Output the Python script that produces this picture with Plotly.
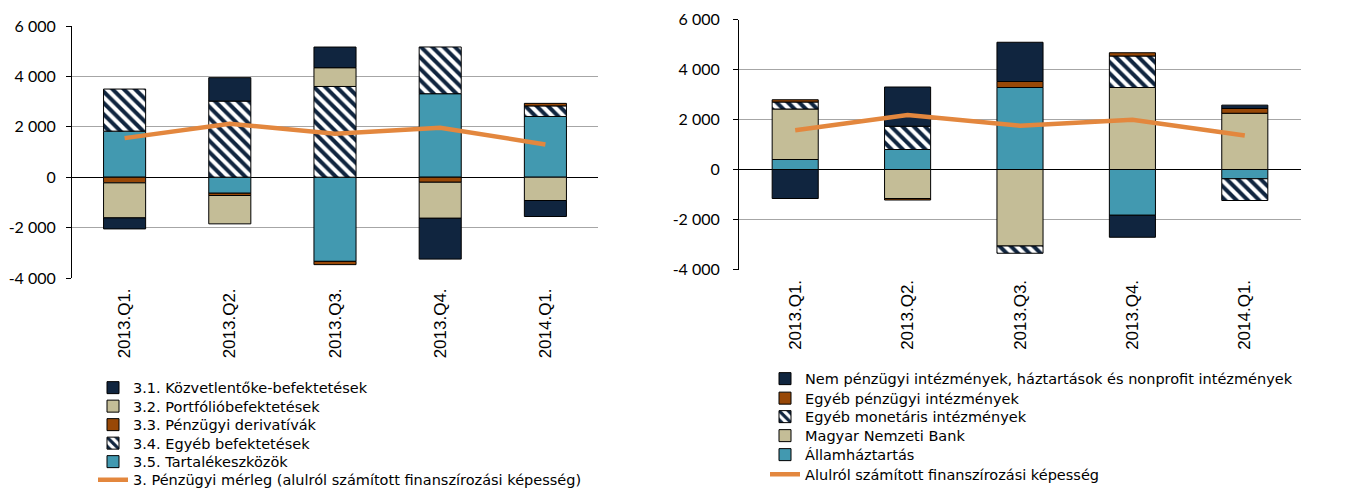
import plotly.graph_objects as go

# ---------------- data ----------------
categories = ["2013.Q1.", "2013.Q2.", "2013.Q3.", "2013.Q4.", "2014.Q1."]

# Left chart (Pénzügyi mérleg komponensei)
fdi = [-437, 930, 820, -1620, -635]          # 3.1 Közvetlentőke-befektetések
portfolio = [-1390, -1125, 745, -1430, -925]  # 3.2 Portfólióbefektetések
derivatives = [-225, -90, -130, -200, 100]    # 3.3 Pénzügyi derivatívák
other_inv = [1670, 3020, 3600, 1855, 420]     # 3.4 Egyéb befektetések
reserves = [1828, -636, -3340, 3313, 2410]    # 3.5 Tartalékeszközök
fin_balance = [1550, 2120, 1720, 1960, 1300]  # 3. Pénzügyi mérleg

# Right chart (szektoronként)
nonfin = [-1160, 1570, 1570, -880, 135]       # Nem pénzügyi intézmények...
other_fin = [90, -60, 240, 130, 190]          # Egyéb pénzügyi intézmények
other_mon = [280, 930, -290, 1260, -870]      # Egyéb monetáris intézmények
mnb = [2020, -1160, -3060, 3280, 2250]        # Magyar Nemzeti Bank
govt = [400, 800, 3280, -1830, -370]          # Államháztartás
fin_capacity = [1570, 2180, 1755, 1990, 1356] # Alulról számított finanszírozási képesség

y_ticks = [-4000, -2000, 0, 2000, 4000, 6000]
y_tick_labels = ["-4 000", "-2 000", "0", "2 000", "4 000", "6 000"]

left_names = ["3.1. Közvetlentőke-befektetések", "3.2. Portfólióbefektetések",
              "3.3. Pénzügyi derivatívák", "3.4. Egyéb befektetések",
              "3.5. Tartalékeszközök",
              "3. Pénzügyi mérleg (alulról számított finanszírozási képesség)"]
right_names = ["Nem pénzügyi intézmények, háztartások és nonprofit intézmények",
               "Egyéb pénzügyi intézmények", "Egyéb monetáris intézmények",
               "Magyar Nemzeti Bank", "Államháztartás",
               "Alulról számított finanszírozási képesség"]

# ---------------- styles ----------------
NAVY = "#10253F"
BEIGE = "#C4BD97"
BROWN = "#984807"
TEAL = "#4299B0"
ORANGE = "#E3873E"
GRID = "#A6A6A6"
OFF = 8                      # page body margin
W, H = 1367 - OFF, 490 - OFF

def px_x(p):
    return (p - OFF) / W

def px_y(p):
    return 1 - (p - OFF) / H

L_X = [px_x(72), px_x(598)]
L_Y = [px_y(278), px_y(26)]
R_X = [px_x(739), px_x(1301)]
R_Y = [px_y(269.5), px_y(19.5)]
YR = [-4000, 6000]

# legend row centres (screen px) and text start x
L_ROWS = [386, 404.5, 423, 441.5, 460, 478]
R_ROWS = [377, 396.5, 415, 434, 453, 472.5]
L_TEXT_X, R_TEXT_X = 133, 805

def solid(color):
    return dict(color=color, line=dict(color="black", width=1))

def hatched():
    return dict(color="white", line=dict(color="black", width=1),
                pattern=dict(shape="\\", fgcolor=NAVY, bgcolor="white",
                             size=8, solidity=0.5, fillmode="replace"))

fig = go.Figure()

def legend_id(i):
    return "legend" if i == 1 else f"legend{i}"

# left chart bars: stacking order from zero outward 3.5, 3.4, 3.3, 3.2, 3.1
left_bars = [
    (reserves, 4, solid(TEAL)),
    (other_inv, 3, hatched()),
    (derivatives, 2, solid(BROWN)),
    (portfolio, 1, solid(BEIGE)),
    (fdi, 0, solid(NAVY)),
]
for vals, idx, marker in left_bars:
    fig.add_trace(go.Bar(x=categories, y=vals, name=left_names[idx], marker=marker,
                         width=0.4, legend=legend_id(idx + 1),
                         xaxis="x", yaxis="y"))
fig.add_trace(go.Scatter(x=categories, y=fin_balance, name=left_names[5],
                         mode="lines", line=dict(color=ORANGE, width=4.5),
                         legend=legend_id(6), xaxis="x", yaxis="y"))

right_bars = [
    (govt, 4, solid(TEAL)),
    (mnb, 3, solid(BEIGE)),
    (other_mon, 2, hatched()),
    (other_fin, 1, solid(BROWN)),
    (nonfin, 0, solid(NAVY)),
]
for vals, idx, marker in right_bars:
    fig.add_trace(go.Bar(x=categories, y=vals, name=right_names[idx], marker=marker,
                         width=0.41, legend=legend_id(idx + 7),
                         xaxis="x2", yaxis="y2"))
fig.add_trace(go.Scatter(x=categories, y=fin_capacity, name=right_names[5],
                         mode="lines", line=dict(color=ORANGE, width=4.5),
                         legend=legend_id(12), xaxis="x2", yaxis="y2"))

tick_font = dict(family="Lato, Open Sans, sans-serif", size=16, color="black")
xlab_font = dict(family="Liberation Sans, Arial, sans-serif", size=17, color="black")
leg_font = dict(family="DejaVu Sans, sans-serif", size=14.5, color="black")

def main_y(domain, anchor, standoff):
    return dict(domain=domain, anchor=anchor, range=YR, tickmode="array",
                tickvals=y_ticks, ticktext=y_tick_labels, showgrid=True,
                gridcolor=GRID, gridwidth=1, zeroline=True, zerolinecolor="black",
                zerolinewidth=1, showline=True, linecolor="black", linewidth=1,
                ticks="outside", ticklen=5, tickcolor="black", automargin=False,
                tickfont=tick_font, ticklabelstandoff=standoff, fixedrange=True)

def right_y(overlay, anchor, inside=False):
    return dict(overlaying=overlay, anchor=anchor, side="right", range=YR,
                tickmode="array", tickvals=y_ticks, ticktext=y_tick_labels,
                showgrid=False, zeroline=False, showline=True, linecolor="black",
                linewidth=1, ticks="inside" if inside else "outside", ticklen=4,
                tickcolor="black", tickfont=tick_font, ticklabelstandoff=9,
                showticklabels=not inside, automargin=False)

def main_x(domain, anchor):
    return dict(domain=domain, anchor=anchor, type="category",
                categoryorder="array", categoryarray=categories,
                range=[-0.5, 4.5], ticks="", showline=False, showgrid=False,
                tickangle=-90, tickfont=xlab_font, ticklabelstandoff=6,
                automargin=False)

def zero_x(domain, overlay, ydom):
    pos = ydom[0] + (0 - YR[0]) / (YR[1] - YR[0]) * (ydom[1] - ydom[0])
    return dict(domain=domain, overlaying=overlay, anchor="free", position=pos,
                type="category", categoryorder="array", categoryarray=categories,
                range=[-0.5, 4.5], ticks="outside", tickson="boundaries",
                ticklen=5, tickcolor="black", showticklabels=False,
                showline=False, showgrid=False, automargin=False)

def legend_box(text_x, row_y):
    return dict(x=px_x(text_x - 40), y=px_y(row_y - 14.3), xanchor="left",
                yanchor="top", font=leg_font, bgcolor="rgba(0,0,0,0)",
                itemclick=False, itemdoubleclick=False)

legends = {}
for i, ry in enumerate(L_ROWS):
    legends[legend_id(i + 1)] = legend_box(L_TEXT_X, ry)
for i, ry in enumerate(R_ROWS):
    legends[legend_id(i + 7)] = legend_box(R_TEXT_X, ry)

fig.update_layout(
    width=W, height=H, margin=dict(l=0, r=0, t=0, b=0, autoexpand=False),
    paper_bgcolor="white", plot_bgcolor="white",
    barmode="relative", showlegend=True,
    xaxis=main_x(L_X, "y"),
    yaxis=main_y(L_Y, "x", 7),
    xaxis2=main_x(R_X, "y2"),
    yaxis2=main_y(R_Y, "x2", 10),
    yaxis3=right_y("y", "x"),
    yaxis4=right_y("y2", "x2"),
    yaxis5=right_y("y", "x", inside=True),
    yaxis6=right_y("y2", "x2", inside=True),
    xaxis3=zero_x(L_X, "x", L_Y),
    xaxis4=zero_x(R_X, "x2", R_Y),
    **legends,
)

fig.write_html("out.html")
